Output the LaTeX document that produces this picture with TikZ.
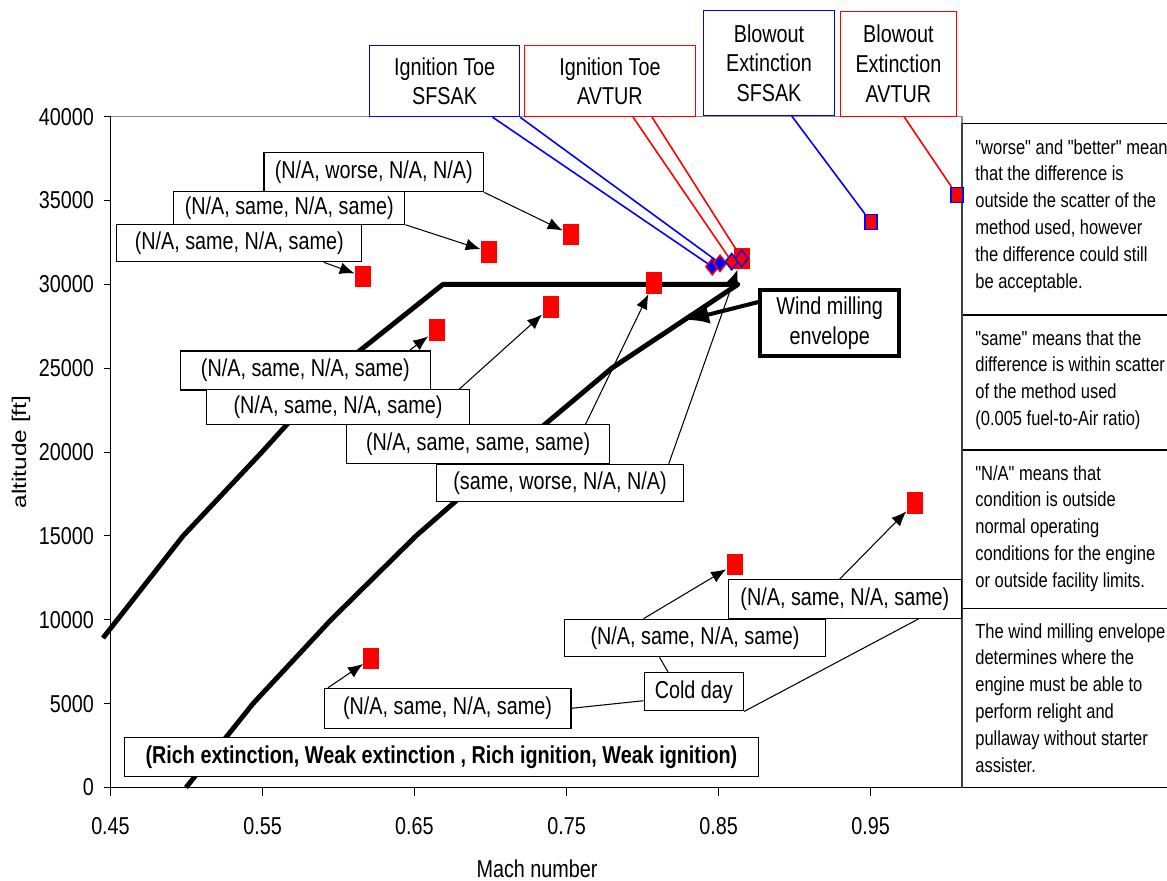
\documentclass[tikz,border=0pt]{standalone}
\usepackage{fontspec}
\setmainfont{Liberation Sans}[FakeStretch=0.81, Ligatures=TeXOff]
\newfontfamily\ylabfont{Liberation Sans}
\usetikzlibrary{arrows.meta,shapes.geometric}
\pgfdeclarelayer{bg}
\pgfsetlayers{bg,main}
\newcommand{\lblfont}{\fontsize{13.9}{17}\selectfont}
\newcommand{\notefont}{\fontsize{11.6}{15.25}\selectfont}
\definecolor{framegray}{gray}{0.55}

\begin{document}
\begin{tikzpicture}[x=0.02cm, y=-0.02cm, font=\lblfont,
    lbl/.style={draw, fill=white, inner sep=0pt, line width=0.6pt},
    note/.style={anchor=north west, inner sep=0pt, align=left, font=\notefont},
    sq/.style={fill=red, inner sep=0pt, minimum width=0.32cm, minimum height=0.43cm},
    bsq/.style={fill=red, draw=blue, line width=0.8pt, inner sep=0pt, minimum width=0.24cm, minimum height=0.3cm},
    dsf/.style={diamond, fill=blue, draw=red, line width=0.8pt, inner sep=0pt, minimum width=0.27cm, minimum height=0.34cm},
    dav/.style={diamond, fill=red, draw=blue, line width=0.8pt, inner sep=0pt, minimum width=0.27cm, minimum height=0.34cm},
    tip/.style={-{Latex[length=0.3cm,width=0.24cm]}, line width=0.6pt},
    lead/.style={line width=0.9pt},
    env/.style={line width=2.8pt, line join=round}]
\useasboundingbox (0,0) rectangle (1167,880);
\begin{pgfonlayer}{bg}
  \fill[white] (0,0) rectangle (1167,880);
  % wind milling envelope
  \draw[env] (103,638) -- (183,536) -- (262,452) -- (338,368) -- (443,284.3)
    -- (738,284.3) -- (612,368) -- (512,452) -- (416,535.9) -- (331,619.8)
    -- (253,703.6) -- (186,787.5);
\end{pgfonlayer}

% axes
\draw[framegray, line width=0.6pt] (110.5,116.7) -- (962,116.7) -- (962,787.5);
\draw[line width=0.7pt] (110.5,116.7) -- (110.5,787.5) -- (962,787.5);
\foreach \k in {0,...,8} {
  \pgfmathsetmacro\yy{787.5-\k*83.85}
  \pgfmathtruncatemacro\lab{\k*5}
  \draw[line width=0.6pt] (104,\yy) -- (110.5,\yy);
  \node[anchor=east, inner sep=0pt] (yt\k) at (94.3,\yy) {\ifnum\k=0 0\else\lab000\fi};
}
\foreach \m [count=\i] in {0.45,0.55,0.65,0.75,0.85,0.95} {
  \pgfmathsetmacro\xx{110.5+(\m-0.45)*1520}
  \draw[line width=0.6pt] (\xx,787.5) -- (\xx,796);
  \node[anchor=north, inner sep=0pt] (xt\i) at (\xx,816.7) {\m};
}
\node[anchor=base] (xlab) at (537,877) {Mach number};
\node[rotate=90, yscale=0.81, transform shape, font=\ylabfont\fontsize{13.9}{17}\selectfont] (ylab) at (21,452) {altitude [ft]};

% notes on the right
\draw[line width=0.6pt] (962,123.3) -- (1167,123.3);
\foreach \yy in {315,450,608.3}
  \draw[line width=0.6pt] (962,\yy) -- (1167,\yy);
\draw[line width=0.8pt] (962,787.5) -- (1167,787.5);
\draw[darkgray, line width=0.6pt] (962,123.3) -- (962,787.5);
\node[note] (n1) at (975,139) {"worse" and "better" mean\\that the difference is\\outside the scatter of the\\method used, however\\the difference could still\\be acceptable.};
\node[note] (n2) at (975,330) {"same" means that the\\difference is within scatter\\of the method used\\(0.005 fuel-to-Air ratio)};
\node[note] (n3) at (975,465) {"N/A" means that\\condition is outside\\normal operating\\conditions for the engine\\or outside facility limits.};
\node[note] (n4) at (975,623) {The wind milling envelope\\determines where the\\engine must be able to\\perform relight and\\pullaway without starter\\assister.};

% data points
\node[sq] (sqA) at (363,276.5) {};
\node[sq] (sqB) at (489,252) {};
\node[sq] (sqC) at (571,234.5) {};
\node[sq] (sqD) at (436.6,330) {};
\node[sq] (sqE) at (550.5,307) {};
\node[sq] (sqF) at (653.8,283) {};
\node[sq] (sqG) at (741.5,258.5) {};
\node[sq] (sqH) at (371.4,658.3) {};
\node[sq] (sqI) at (734.5,564.3) {};
\node[sq] (sqJ) at (914.7,502.8) {};
\node[dsf] (dS1) at (712.3,266.7) {};
\node[dsf] (dS2) at (720,263.3) {};
\node[dav] (dA1) at (731.7,261.7) {};
\node[dav] (dA2) at (741.7,258.3) {};
\node[bsq] (bS) at (871,222) {};
\node[bsq] (bA) at (957,195) {};

% legend boxes on top
\node[lbl, draw=blue, minimum width=3cm, minimum height=1.42cm, align=center] (itS) at (444.6,81.2) {Ignition Toe\\SFSAK};
\node[lbl, draw=red, minimum width=3.41cm, minimum height=1.42cm, align=center] (itA) at (609.9,81.2) {Ignition Toe\\AVTUR};
\node[lbl, draw=blue, minimum width=2.63cm, minimum height=2.09cm, align=center] (beS) at (769,63.2) {Blowout\\Extinction\\SFSAK};
\node[lbl, draw=red, minimum width=2.32cm, minimum height=2.11cm, align=center] (beA) at (898.4,63.9) {Blowout\\Extinction\\AVTUR};
\draw[lead, blue] ([xshift=-0.55cm]itS.south east) -- (dS1);
\draw[lead, blue] (itS.south east) -- (dS2);
\draw[lead, red] ([xshift=2.18cm]itA.south west) -- (dA1);
\draw[lead, red] ([xshift=2.56cm]itA.south west) -- (dA2);
\draw[lead, blue] ([xshift=1.78cm]beS.south west) -- (bS);
\draw[lead, red] ([xshift=1.29cm]beA.south west) -- (bA);

% comparison labels
\node[lbl, minimum width=4.39cm, minimum height=0.78cm] (l1) at (373.7,172.2) {(N/A, worse, N/A, N/A)};
\node[lbl, minimum width=4.63cm, minimum height=0.65cm] (l2) at (289.2,208) {(N/A, same, N/A, same)};
\node[lbl, minimum width=4.9cm, minimum height=0.75cm] (l3) at (239.2,243) {(N/A, same, N/A, same)};
\node[lbl, minimum width=5cm, minimum height=0.78cm] (l4) at (305.4,370.5) {(N/A, same, N/A, same)};
\node[lbl, minimum width=5.26cm, minimum height=0.71cm] (l5) at (338,407.2) {(N/A, same, N/A, same)};
\node[lbl, minimum width=5.27cm, minimum height=0.77cm] (l6) at (478.2,444.2) {(N/A, same, same, same)};
\node[lbl, minimum width=4.93cm, minimum height=0.75cm] (l7) at (560,483) {(same, worse, N/A, N/A)};
\node[lbl, minimum width=4.66cm, minimum height=0.77cm] (l10) at (844.9,599.2) {(N/A, same, N/A, same)};
\node[lbl, minimum width=5.22cm, minimum height=0.75cm] (l9) at (695,638) {(N/A, same, N/A, same)};
\node[lbl, minimum width=4.94cm, minimum height=0.8cm] (l8) at (447.5,708.3) {(N/A, same, N/A, same)};
\node[lbl, minimum width=1.99cm, minimum height=0.77cm] (cold) at (693.8,691.7) {Cold day};
\node[lbl, minimum width=12.68cm, minimum height=0.77cm, font=\lblfont\bfseries] (key) at (441.4,756.9) {(Rich extinction, Weak extinction , Rich ignition, Weak ignition)};

\draw[tip] (l1.south east) -- (sqC);
\draw[tip] (l2.south east) -- (sqB);
\draw[tip] ([xshift=-0.77cm]l3.south east) -- (sqA);
\draw[tip] ([xshift=-0.43cm]l4.north east) -- (sqD);
\draw[tip] ([xshift=-0.21cm]l5.north east) -- (sqE);
\draw[tip] ([xshift=-0.5cm]l6.north east) -- (sqF);
\draw[tip] ([xshift=-0.3cm]l7.north east) -- (sqG);
\draw[tip] ([xshift=0.09cm]l8.north west) -- (sqH);
\draw[tip] ([xshift=1.59cm]l9.north west) -- (sqI);
\draw[tip] ([xshift=2.23cm]l10.north west) -- (sqJ);
\draw[line width=0.6pt] ([yshift=-0.18cm]cold.west) -- (l8.east);
\draw[line width=0.6pt] ([xshift=0.49cm]cold.north west) -- ([xshift=1.91cm]l9.south west);
\draw[line width=0.6pt] (cold.south east) -- ([xshift=-0.87cm]l10.south east);

% wind milling callout
\node[draw, fill=white, line width=2.3pt, inner sep=0pt, minimum width=2.77cm, minimum height=1.31cm, align=center] (wind) at (829.7,323) {Wind milling\\envelope};
\coordinate (windtip) at (687,320);
\draw[line width=2.3pt, -{Latex[length=0.44cm,width=0.38cm]}] ([yshift=0.42cm]wind.west) -- (windtip);
\end{tikzpicture}
\end{document}
